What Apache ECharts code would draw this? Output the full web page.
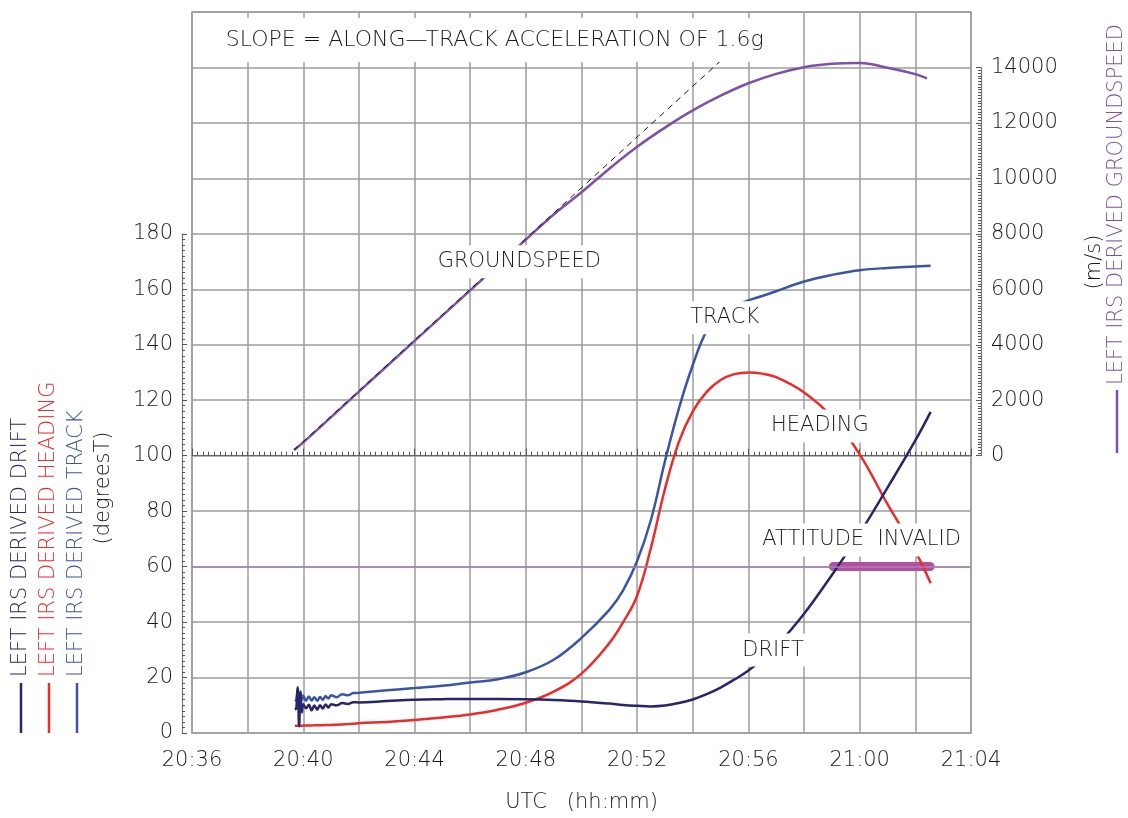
<!DOCTYPE html>
<html>
<head>
<meta charset="utf-8">
<title>Left IRS derived data</title>
<script src="https://cdn.jsdelivr.net/npm/echarts@6/dist/echarts.min.js"></script>
<style>
  html, body { margin: 0; padding: 0; background: #fff; }
  #chart { width: 1128px; height: 818px; }
</style>
</head>
<body>
<div id="chart"></div>
<script>
// x range (UTC)
const timeRange = ['20:36', '21:04']

// sample times for the three angle traces (degreesT)
const degTimes = ['20:39:42', '20:39:45', '20:39:48', '20:39:51', '20:39:54', '20:39:57',
  '20:40:00', '20:40:06', '20:40:12', '20:40:18', '20:40:24', '20:40:30', '20:40:36', '20:40:42',
  '20:40:48', '20:40:54', '20:41:00', '20:41:12', '20:41:24', '20:41:36', '20:41:48', '20:42:00',
  '20:43:00', '20:44:00', '20:45:00', '20:46:00', '20:47:00', '20:48:00', '20:49:00', '20:50:00',
  '20:51:00', '20:51:30', '20:52:00', '20:52:30', '20:53:00', '20:53:30', '20:54:00', '20:54:30',
  '20:55:00', '20:55:30', '20:56:00', '20:56:30', '20:57:00', '20:58:00', '20:59:00', '21:00:00',
  '21:01:00', '21:02:00', '21:02:33']

const track = [11.5, 12.0, 16.0, 11.0, 15.0, 12.0,
  13.4, 11.6, 13.2, 11.7, 12.9, 11.6, 13.0, 12.0,
  13.3, 12.4, 13.6, 12.9, 14.0, 13.6, 14.4, 14.5,
  15.4, 16.2, 17.0, 18.2, 19.4, 21.9, 26.4, 34.3,
  44.4, 51.5, 62.0, 77.0, 98.0, 117.0, 132.7, 145.0,
  151.0, 154.0, 156.0, 157.6, 159.3, 162.8, 165.2, 166.9,
  167.7, 168.2, 168.5]

const heading = [2.6, 2.6, 2.6, 2.6, 2.6, 2.6,
  2.7, 2.7, 2.7, 2.7, 2.8, 2.8, 2.8, 2.8,
  2.9, 2.9, 2.9, 3.0, 3.1, 3.2, 3.3, 3.5,
  4.0, 4.7, 5.6, 6.7, 8.4, 10.9, 14.9, 21.4,
  32.4, 40.0, 49.5, 67.0, 88.0, 105.0, 116.0, 123.0,
  127.3, 129.4, 130.0, 129.6, 128.3, 122.8, 114.0, 100.5,
  82.5, 65.5, 54.0]

const drift = [8.4, 9.0, 16.5, 2.4, 14.5, 7.4,
  10.4, 8.9, 10.2, 8.2, 9.9, 8.4, 10.0, 8.8,
  10.3, 9.2, 10.4, 10.0, 10.8, 10.5, 11.1, 11.0,
  11.5, 12.0, 12.2, 12.3, 12.3, 12.2, 11.9, 11.4,
  10.6, 10.1, 9.8, 9.6, 9.9, 10.8, 12.1, 14.0,
  16.4, 19.3, 22.5, 26.6, 31.2, 43.0, 57.0, 72.0,
  88.5, 105.5, 115.8]

// groundspeed (m/s)
const gsTimes = ['20:39:40', '20:40', '20:42', '20:44', '20:46', '20:48', '20:49', '20:50', '20:51',
  '20:52', '20:53', '20:54', '20:55', '20:56', '20:57', '20:58', '20:59', '21:00', '21:01', '21:02',
  '21:02:25']
const groundspeed = [205, 480, 2310, 4140, 5960, 7790, 8700, 9500, 10350,
  11140, 11830, 12450, 12980, 13430, 13770, 14010, 14130, 14160, 13990, 13760,
  13610]

// 1.6g reference slope
const slopeTimes = ['20:39:40', '20:55:04']
const slopeSpeed = [205, 14300]

// attitude invalid span, at 60 degreesT
const attitudeLimit = 60
const invalidTimes = ['20:59:03', '21:02:32']

// annotations: text, anchor time, anchor degreesT
const notes = [
  { text: 'SLOPE = ALONG—TRACK ACCELERATION OF 1.6g', at: '20:46:53', deg: 249.9 },
  { text: 'GROUNDSPEED', at: '20:47:46', deg: 169.9 },
  { text: 'TRACK', at: '20:55:09', deg: 149.7 },
  { text: 'HEADING', at: '20:58:34', deg: 110.7 },
  { text: 'ATTITUDE  INVALID', at: '21:00:04', deg: 69.6 },
  { text: 'DRIFT', at: '20:56:53', deg: 29.9 }
]

const toMin = t => {
  const p = t.split(':').map(Number)
  return p[0] * 60 + p[1] + (p[2] || 0) / 60
}
const fmtTime = m => {
  const h = Math.floor(m / 60)
  const mm = Math.round(m - h * 60)
  return h + ':' + String(mm).padStart(2, '0')
}
const pairs = (times, vals) => times.map((t, i) => [toMin(t), vals[i]])

const colors = {
  drift: '#28266a',
  heading: '#ee2a2a',
  track: '#3a55a6',
  gs: '#7d50aa',
  limit: '#a97fb6',
  invalid: '#b2509f'
}
const gridGrey = '#9c9c9c'
const textColor = '#1a1a1a'
const font = 'DejaVu Sans'
const xMin = toMin(timeRange[0])
const xMax = toMin(timeRange[1])

const chart = echarts.init(document.getElementById('chart'))

const curve = (name, data, color, yAxisIndex) => ({
  name,
  type: 'line',
  xAxisIndex: 0,
  yAxisIndex,
  data,
  symbol: 'none',
  smooth: 0.4,
  z: 3,
  lineStyle: { color, width: 2.5 },
  silent: true
})

const labelText = { fontFamily: font, fontWeight: 200, fontSize: 21, color: textColor }
const plainNum = v => String(v)

const legendCols = [
  { text: 'LEFT IRS DERIVED DRIFT', color: colors.drift, x: 21 },
  { text: 'LEFT IRS DERIVED HEADING', color: colors.heading, x: 49 },
  { text: 'LEFT IRS DERIVED TRACK', color: colors.track, x: 77 }
]

const vText = (x, y, text, fill, align) => ({
  type: 'text',
  x,
  y,
  rotation: Math.PI / 2,
  style: { text, fill, fontFamily: font, fontWeight: 200, fontSize: 21, align, verticalAlign: 'middle' }
})

// white-boxed annotation text at a data anchor
const renderNote = (params, api) => {
  const p = api.coord([api.value(0), api.value(1)])
  const first = params.dataIndex === 0
  return {
    type: 'text',
    x: p[0],
    y: p[1],
    style: {
      text: notes[params.dataIndex].text,
      fill: textColor,
      fontFamily: font,
      fontWeight: 200,
      fontSize: first ? 22 : 21,
      align: 'center',
      verticalAlign: 'middle',
      backgroundColor: '#fff',
      padding: first ? [11, 16] : [6, 8]
    }
  }
}

const options = {
  animation: false,
  grid: [
    { left: 192, right: 157, top: 12, bottom: 85, show: true, borderColor: gridGrey, borderWidth: 1.5 },
    { left: 182, right: 157, top: 233.8, bottom: 85 },
    { left: 900, right: 147, top: 67.5, bottom: 362.3 }
  ],
  xAxis: [
    {
      gridIndex: 0,
      type: 'value',
      min: xMin,
      max: xMax,
      interval: 2,
      axisLine: { show: false },
      axisTick: { show: false },
      axisLabel: { show: false },
      splitLine: { show: true, lineStyle: { color: gridGrey, width: 1.5 } }
    },
    {
      gridIndex: 0,
      type: 'value',
      position: 'bottom',
      offset: 9,
      min: xMin,
      max: xMax,
      interval: 4,
      axisLine: { show: true, lineStyle: { color: '#666', width: 1.2 } },
      axisTick: { show: true, inside: true, length: 7, lineStyle: { color: '#555', width: 1 } },
      minorTick: { show: true, splitNumber: 20, length: 4, lineStyle: { color: '#555', width: 1 } },
      axisLabel: Object.assign({ formatter: fmtTime, margin: 8 }, labelText),
      splitLine: { show: false },
      name: 'UTC   (hh:mm)',
      nameLocation: 'middle',
      nameGap: 50,
      nameTextStyle: labelText
    },
    { gridIndex: 1, type: 'value', min: xMin, max: xMax, show: false },
    { gridIndex: 2, type: 'value', min: xMin, max: xMax, show: false }
  ],
  yAxis: [
    {
      gridIndex: 0,
      type: 'value',
      min: 0,
      max: 260,
      interval: 20,
      axisLine: { show: false },
      axisTick: { show: false },
      axisLabel: { show: false },
      splitLine: { show: true, lineStyle: { color: gridGrey, width: 1.5 } }
    },
    { gridIndex: 0, type: 'value', min: -10000, max: 16000, show: false },
    {
      gridIndex: 1,
      type: 'value',
      position: 'left',
      min: 0,
      max: 180,
      interval: 20,
      axisLine: { show: true, lineStyle: { color: '#777', width: 1.2 } },
      axisTick: { show: true, inside: true, length: 5, lineStyle: { color: '#555' } },
      minorTick: { show: true, splitNumber: 10, length: 3, lineStyle: { color: '#555' } },
      axisLabel: Object.assign({ margin: 9, formatter: plainNum }, labelText),
      splitLine: { show: false }
    },
    {
      gridIndex: 2,
      type: 'value',
      position: 'right',
      min: 0,
      max: 14000,
      interval: 2000,
      axisLine: { show: true, lineStyle: { color: '#777', width: 1.2 } },
      axisTick: { show: true, inside: true, length: 5, lineStyle: { color: '#555' } },
      minorTick: { show: true, splitNumber: 20, length: 3, lineStyle: { color: '#555' } },
      axisLabel: Object.assign({ margin: 10, formatter: plainNum }, labelText),
      splitLine: { show: false }
    }
  ],
  series: [
    {
      name: 'attitude invalid',
      type: 'line',
      xAxisIndex: 0,
      yAxisIndex: 0,
      data: invalidTimes.map(t => [toMin(t), attitudeLimit]),
      symbol: 'none',
      z: 2,
      silent: true,
      lineStyle: { color: colors.invalid, width: 9, cap: 'round' },
      markLine: {
        silent: true,
        symbol: 'none',
        label: { show: false },
        lineStyle: { color: colors.limit, width: 1.5, type: 'solid' },
        data: [{ yAxis: attitudeLimit }]
      }
    },
    curve('groundspeed', pairs(gsTimes, groundspeed), colors.gs, 1),
    {
      name: 'slope',
      type: 'line',
      xAxisIndex: 0,
      yAxisIndex: 1,
      data: pairs(slopeTimes, slopeSpeed),
      symbol: 'none',
      z: 4,
      silent: true,
      lineStyle: { color: '#111', width: 1, type: [6, 5] }
    },
    curve('track', pairs(degTimes, track), colors.track, 0),
    curve('heading', pairs(degTimes, heading), colors.heading, 0),
    curve('drift', pairs(degTimes, drift), colors.drift, 0),
    {
      name: 'notes',
      type: 'custom',
      xAxisIndex: 0,
      yAxisIndex: 0,
      z: 10,
      silent: true,
      clip: false,
      renderItem: renderNote,
      data: notes.map(n => [toMin(n.at), n.deg])
    }
  ],
  graphic: [
    ...legendCols.map(col => ({
      type: 'group',
      children: [
        { type: 'line', shape: { x1: col.x, y1: 733, x2: col.x, y2: 683 }, style: { stroke: col.color, lineWidth: 2.5 } },
        vText(col.x, 677, col.text, col.color, 'left')
      ]
    })),
    vText(104, 488, '(degreesT)', textColor, 'center'),
    { type: 'line', shape: { x1: 1117, y1: 453, x2: 1117, y2: 390 }, style: { stroke: colors.gs, lineWidth: 2.5 } },
    vText(1117, 385, 'LEFT IRS DERIVED GROUNDSPEED', colors.gs, 'left'),
    vText(1095, 262, '(m/s)', textColor, 'center')
  ]
}

chart.setOption(options)
</script>
</body>
</html>
